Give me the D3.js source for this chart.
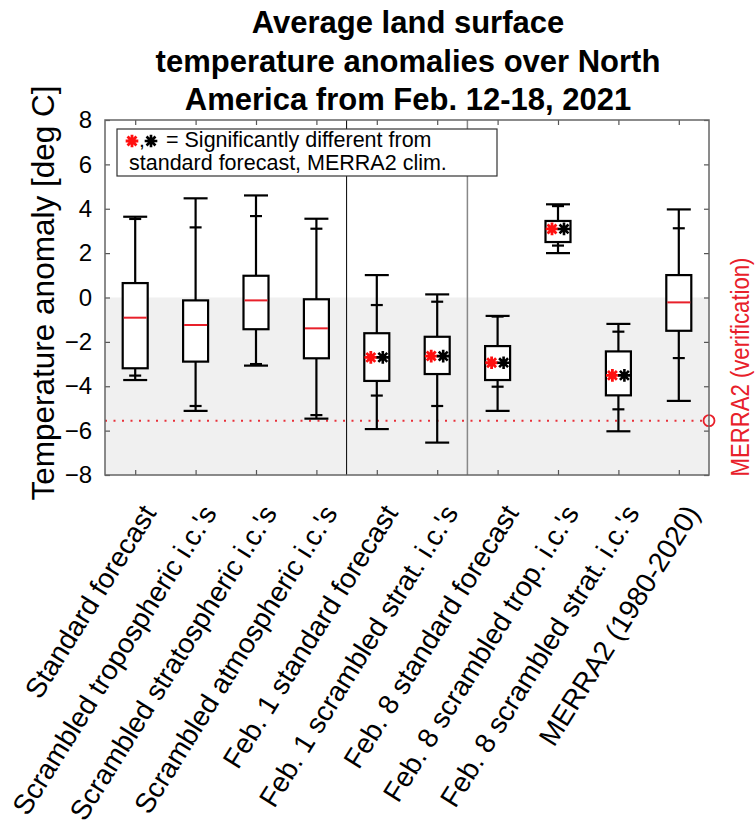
<!DOCTYPE html>
<html lang="en">
<head>
<meta charset="UTF-8">
<title>Land surface temperature anomalies</title>
<script src="https://d3js.org/d3.v7.min.js"></script>
<style>
  body { margin: 0; background: #fff; }
  text { font-family: "Liberation Sans", Arial, sans-serif; }
</style>
</head>
<body>
<div id="chart"></div>
<script>
var categories = ["Standard forecast", "Scrambled tropospheric i.c.'s", "Scrambled stratospheric i.c.'s",
    "Scrambled atmospheric i.c.'s", "Feb. 1 standard forecast", "Feb. 1 scrambled strat. i.c.'s",
    "Feb. 8 standard forecast", "Feb. 8 scrambled trop. i.c.'s", "Feb. 8 scrambled strat. i.c.'s",
    "MERRA2 (1980-2020)"];
var whiskerMax = [3.64, 4.47, 4.60, 3.55, 1.01, 0.14, -0.83, 4.20, -1.19, 3.97];
var pHigh      = [3.54, 3.16, 3.67, 3.10, -0.34, -0.19, -0.86, 4.12, -1.54, 3.12];
var q3         = [0.65, -0.13, 0.98, -0.08, -1.61, -1.77, -2.19, 3.45, -2.43, 1.01];
var median     = [-0.91, -1.24, -0.13, -1.39, -2.70, -2.64, -2.94, 3.09, -3.51, -0.22];
var q1         = [-3.19, -2.89, -1.43, -2.74, -3.76, -3.45, -3.72, 2.50, -4.41, -1.50];
var pLow       = [-3.52, -4.89, -3.00, -5.30, -4.42, -4.89, -4.02, 2.34, -5.04, -2.73];
var whiskerMin = [-3.72, -5.11, -3.07, -5.46, -5.93, -6.54, -5.11, 2.00, -6.03, -4.66];
var significant = [false, false, false, false, true, true, true, true, true, false];
var verification = -5.55;
var yTicks = [-8, -6, -4, -2, 0, 2, 4, 6, 8];
var titleLines = ["Average land surface", "temperature anomalies over North", "America from Feb. 12-18, 2021"];

var W = 755, H = 825;
var svg = d3.select("#chart").append("svg").attr("width", W).attr("height", H);

var x = d3.scaleLinear().domain([0.5, 10.5]).range([105, 709]);
var y = d3.scaleLinear().domain([-8, 8]).range([475, 120]);
var idx = d3.range(1, categories.length + 1);

// shaded negative half
svg.append("rect")
    .attr("x", x(0.5)).attr("y", y(0))
    .attr("width", x(10.5) - x(0.5)).attr("height", y(-8) - y(0))
    .attr("fill", "#f0f0f0");

// group separators
svg.append("line").attr("x1", x(4.5)).attr("x2", x(4.5)).attr("y1", y(8)).attr("y2", y(-8))
    .attr("stroke", "#000").attr("stroke-width", 1);
svg.append("line").attr("x1", x(6.5)).attr("x2", x(6.5)).attr("y1", y(8)).attr("y2", y(-8))
    .attr("stroke", "#888").attr("stroke-width", 1.5);

// verification line
svg.append("line").attr("x1", x(0.5)).attr("x2", x(10.5))
    .attr("y1", y(verification)).attr("y2", y(verification))
    .attr("stroke", "#e8303a").attr("stroke-width", 2).attr("stroke-dasharray", "2,6.5");
svg.append("circle").attr("cx", x(10.5)).attr("cy", y(verification)).attr("r", 5.5)
    .attr("fill", "none").attr("stroke", "#e8202a").attr("stroke-width", 1.8);

// axes
function styleAxis(g) {
    g.select(".domain").remove();
    g.selectAll(".tick line").attr("stroke", "#555").attr("stroke-width", 1.2);
}
svg.append("g").attr("transform", "translate(" + x(0.5) + ",0)")
    .call(d3.axisLeft(y).tickValues(yTicks).tickSize(-5).tickPadding(13))
    .call(styleAxis)
    .call(function (g) {
        g.selectAll("text").attr("font-size", 24).attr("fill", "#000")
            .attr("font-family", "Liberation Sans, Arial, sans-serif");
    });
svg.append("g").attr("transform", "translate(" + x(10.5) + ",0)")
    .call(d3.axisRight(y).tickValues(yTicks).tickSize(-5).tickFormat(""))
    .call(styleAxis);
svg.append("g").attr("transform", "translate(0," + y(8) + ")")
    .call(d3.axisTop(x).tickValues(idx).tickSize(-5).tickFormat(""))
    .call(styleAxis);
svg.append("g").attr("transform", "translate(0," + y(-8) + ")")
    .call(d3.axisBottom(x).tickValues(idx).tickSize(-5).tickFormat(""))
    .call(styleAxis);

svg.append("rect").attr("x", x(0.5)).attr("y", y(8))
    .attr("width", x(10.5) - x(0.5)).attr("height", y(-8) - y(8))
    .attr("fill", "none").attr("stroke", "#666").attr("stroke-width", 1.5);

// rotated category labels
svg.append("g").selectAll("text")
    .data(categories)
    .join("text")
    .attr("transform", function (d, i) { return "translate(" + (x(i + 1) + 22) + ",513) rotate(-58)"; })
    .attr("text-anchor", "end")
    .attr("font-size", 28)
    .text(function (d) { return d; });

// boxes
var bw = 25, capW = 24, tickW = 12;
var boxes = svg.append("g").selectAll("g")
    .data(categories)
    .join("g")
    .attr("stroke", "#000").attr("stroke-width", 2.2).attr("fill", "none");

boxes.append("line")
    .attr("x1", function (d, i) { return x(i + 1); }).attr("x2", function (d, i) { return x(i + 1); })
    .attr("y1", function (d, i) { return y(whiskerMax[i]); }).attr("y2", function (d, i) { return y(q3[i]); });
boxes.append("line")
    .attr("x1", function (d, i) { return x(i + 1); }).attr("x2", function (d, i) { return x(i + 1); })
    .attr("y1", function (d, i) { return y(q1[i]); }).attr("y2", function (d, i) { return y(whiskerMin[i]); });
[whiskerMax, whiskerMin].forEach(function (arr) {
    boxes.append("line")
        .attr("x1", function (d, i) { return x(i + 1) - capW / 2; }).attr("x2", function (d, i) { return x(i + 1) + capW / 2; })
        .attr("y1", function (d, i) { return y(arr[i]); }).attr("y2", function (d, i) { return y(arr[i]); });
});
[pHigh, pLow].forEach(function (arr) {
    boxes.append("line")
        .attr("x1", function (d, i) { return x(i + 1) - tickW / 2; }).attr("x2", function (d, i) { return x(i + 1) + tickW / 2; })
        .attr("y1", function (d, i) { return y(arr[i]); }).attr("y2", function (d, i) { return y(arr[i]); });
});
boxes.append("rect")
    .attr("x", function (d, i) { return x(i + 1) - bw / 2; })
    .attr("y", function (d, i) { return y(q3[i]); })
    .attr("width", bw)
    .attr("height", function (d, i) { return y(q1[i]) - y(q3[i]); })
    .attr("fill", "#fff");
boxes.filter(function (d, i) { return !significant[i]; })
    .append("line")
    .attr("stroke", "#e8202a").attr("stroke-width", 2)
    .attr("x1", function (d) { var i = categories.indexOf(d); return x(i + 1) - bw / 2 + 1; })
    .attr("x2", function (d) { var i = categories.indexOf(d); return x(i + 1) + bw / 2 - 1; })
    .attr("y1", function (d) { return y(median[categories.indexOf(d)]); })
    .attr("y2", function (d) { return y(median[categories.indexOf(d)]); });

// asterisk marker like matlab '*'
var asterisk = {
    draw: function (ctx, size) {
        var r = Math.sqrt(size) / 2;
        var s = r * Math.SQRT1_2;
        ctx.moveTo(-r, 0); ctx.lineTo(r, 0);
        ctx.moveTo(0, -r); ctx.lineTo(0, r);
        ctx.moveTo(-s, -s); ctx.lineTo(s, s);
        ctx.moveTo(-s, s); ctx.lineTo(s, -s);
    }
};
var star = d3.symbol().type(asterisk).size(160);

var sig = idx.filter(function (k) { return significant[k - 1]; });
svg.append("g").selectAll("path.red")
    .data(sig).join("path")
    .attr("d", star)
    .attr("transform", function (k) { return "translate(" + (x(k) - 6) + "," + y(median[k - 1]) + ")"; })
    .attr("fill", "none").attr("stroke", "#ff1010").attr("stroke-width", 2.8);
svg.append("g").selectAll("path.blk")
    .data(sig).join("path")
    .attr("d", star)
    .attr("transform", function (k) { return "translate(" + (x(k) + 6) + "," + y(median[k - 1]) + ")"; })
    .attr("fill", "none").attr("stroke", "#000").attr("stroke-width", 2.6);

// legend
var leg = svg.append("g");
leg.append("rect").attr("x", 117).attr("y", 129).attr("width", 380).attr("height", 47)
    .attr("fill", "#fff").attr("stroke", "#333").attr("stroke-width", 1.2);
leg.append("path").attr("d", star).attr("transform", "translate(132,141)")
    .attr("fill", "none").attr("stroke", "#ff1010").attr("stroke-width", 2.8);
leg.append("text").attr("x", 139).attr("y", 147).attr("font-size", 21).text(",");
leg.append("path").attr("d", star).attr("transform", "translate(151,141)")
    .attr("fill", "none").attr("stroke", "#000").attr("stroke-width", 2.6);
leg.append("text").attr("x", 166).attr("y", 147).attr("font-size", 21.5).text("= Significantly different from");
leg.append("text").attr("x", 129).attr("y", 170).attr("font-size", 21.5).text("standard forecast, MERRA2 clim.");

// titles
svg.append("g").selectAll("text")
    .data(titleLines).join("text")
    .attr("x", 408).attr("y", function (d, i) { return 33 + i * 38.5; })
    .attr("text-anchor", "middle")
    .attr("font-size", 31).attr("font-weight", "bold")
    .text(function (d) { return d; });

svg.append("text")
    .attr("transform", "translate(54," + 293 + ") rotate(-90)")
    .attr("text-anchor", "middle")
    .attr("font-size", 31.5)
    .text("Temperature anomaly [deg C]");

svg.append("text")
    .attr("transform", "translate(749,367) rotate(-90)")
    .attr("text-anchor", "middle")
    .attr("font-size", 25)
    .attr("textLength", 219).attr("lengthAdjust", "spacingAndGlyphs")
    .attr("fill", "#e8202a")
    .text("MERRA2 (verification)");
</script>
</body>
</html>
